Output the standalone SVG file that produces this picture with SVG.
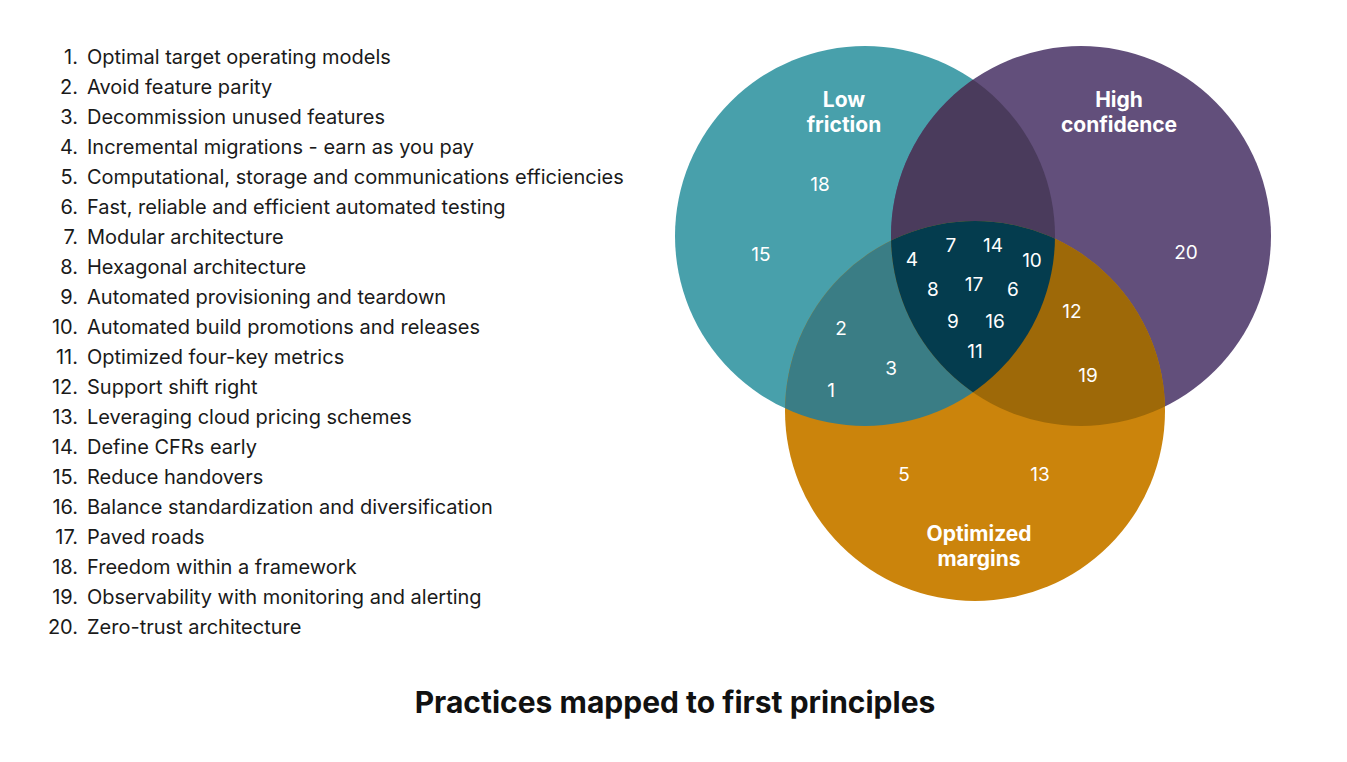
<svg xmlns="http://www.w3.org/2000/svg" width="1347" height="762" viewBox="0 0 1347 762">
<style>
.li{font-family:Inter,"Noto Sans",sans-serif;font-size:20px;fill:#1a1a1a}
.ln{font-family:Inter,"Noto Sans",sans-serif;font-size:20px;fill:#1a1a1a;text-anchor:end}
.lab{font-family:Inter,"Noto Sans",sans-serif;font-size:21px;font-weight:700;fill:#ffffff;text-anchor:middle}
.num{font-family:Inter,"Noto Sans",sans-serif;font-size:19px;fill:#ffffff;text-anchor:middle}
.title{font-family:Inter,"Noto Sans",sans-serif;font-size:30px;font-weight:700;fill:#111111;text-anchor:middle}
</style>
<defs>
<clipPath id="cT"><circle cx="865" cy="236" r="190"/></clipPath>
<clipPath id="cP"><circle cx="1081" cy="236" r="190"/></clipPath>
</defs>
<rect width="1347" height="762" fill="#ffffff"/>
<g id="list">
<text class="ln" x="78" y="64">1.</text><text class="li" x="87" y="64">Optimal target operating models</text>
<text class="ln" x="78" y="94">2.</text><text class="li" x="87" y="94">Avoid feature parity</text>
<text class="ln" x="78" y="124">3.</text><text class="li" x="87" y="124">Decommission unused features</text>
<text class="ln" x="78" y="154">4.</text><text class="li" x="87" y="154">Incremental migrations - earn as you pay</text>
<text class="ln" x="78" y="184">5.</text><text class="li" x="87" y="184">Computational, storage and communications efficiencies</text>
<text class="ln" x="78" y="214">6.</text><text class="li" x="87" y="214">Fast, reliable and efficient automated testing</text>
<text class="ln" x="78" y="244">7.</text><text class="li" x="87" y="244">Modular architecture</text>
<text class="ln" x="78" y="274">8.</text><text class="li" x="87" y="274">Hexagonal architecture</text>
<text class="ln" x="78" y="304">9.</text><text class="li" x="87" y="304">Automated provisioning and teardown</text>
<text class="ln" x="78" y="334">10.</text><text class="li" x="87" y="334">Automated build promotions and releases</text>
<text class="ln" x="78" y="364">11.</text><text class="li" x="87" y="364">Optimized four-key metrics</text>
<text class="ln" x="78" y="394">12.</text><text class="li" x="87" y="394">Support shift right</text>
<text class="ln" x="78" y="424">13.</text><text class="li" x="87" y="424">Leveraging cloud pricing schemes</text>
<text class="ln" x="78" y="454">14.</text><text class="li" x="87" y="454">Define CFRs early</text>
<text class="ln" x="78" y="484">15.</text><text class="li" x="87" y="484">Reduce handovers</text>
<text class="ln" x="78" y="514">16.</text><text class="li" x="87" y="514">Balance standardization and diversification</text>
<text class="ln" x="78" y="544">17.</text><text class="li" x="87" y="544">Paved roads</text>
<text class="ln" x="78" y="574">18.</text><text class="li" x="87" y="574">Freedom within a framework</text>
<text class="ln" x="78" y="604">19.</text><text class="li" x="87" y="604">Observability with monitoring and alerting</text>
<text class="ln" x="78" y="634">20.</text><text class="li" x="87" y="634">Zero-trust architecture</text>
</g>
<g id="venn">
<g id="low-friction"><circle cx="865" cy="236" r="190" fill="#48A0AB"/></g>
<g id="high-confidence"><circle cx="1081" cy="236" r="190" fill="#624F7B"/></g>
<g id="optimized-margins"><circle cx="975" cy="411" r="190" fill="#CB840C"/></g>
<g id="overlap-lf-hc" clip-path="url(#cT)"><circle cx="1081" cy="236" r="190" fill="#4A3B5C"/></g>
<g id="overlap-lf-om" clip-path="url(#cT)"><circle cx="975" cy="411" r="190" fill="#3A7D85"/></g>
<g id="overlap-hc-om" clip-path="url(#cP)"><circle cx="975" cy="411" r="190" fill="#9E6908"/></g>
<g id="overlap-all" clip-path="url(#cT)"><g clip-path="url(#cP)"><circle cx="975" cy="411" r="190" fill="#043C4E"/></g></g>
</g>
<g id="labels">
<text class="lab" x="844" y="107">Low</text><text class="lab" x="844" y="132">friction</text>
<text class="lab" x="1119" y="107">High</text><text class="lab" x="1119" y="132">confidence</text>
<text class="lab" x="979" y="541">Optimized</text><text class="lab" x="979" y="566">margins</text>
</g>
<g id="numbers">
<text class="num" x="820" y="191">18</text>
<text class="num" x="761" y="261">15</text>
<text class="num" x="841" y="335">2</text>
<text class="num" x="891" y="375">3</text>
<text class="num" x="831" y="397">1</text>
<text class="num" x="912" y="266">4</text>
<text class="num" x="951" y="252">7</text>
<text class="num" x="993" y="252">14</text>
<text class="num" x="1032" y="267">10</text>
<text class="num" x="933" y="296">8</text>
<text class="num" x="974" y="291">17</text>
<text class="num" x="1013" y="296">6</text>
<text class="num" x="953" y="328">9</text>
<text class="num" x="995" y="328">16</text>
<text class="num" x="975" y="358">11</text>
<text class="num" x="1072" y="318">12</text>
<text class="num" x="1088" y="382">19</text>
<text class="num" x="1186" y="259">20</text>
<text class="num" x="904" y="481">5</text>
<text class="num" x="1040" y="481">13</text>
</g>
<text class="title" x="675" y="713">Practices mapped to first principles</text>
</svg>
